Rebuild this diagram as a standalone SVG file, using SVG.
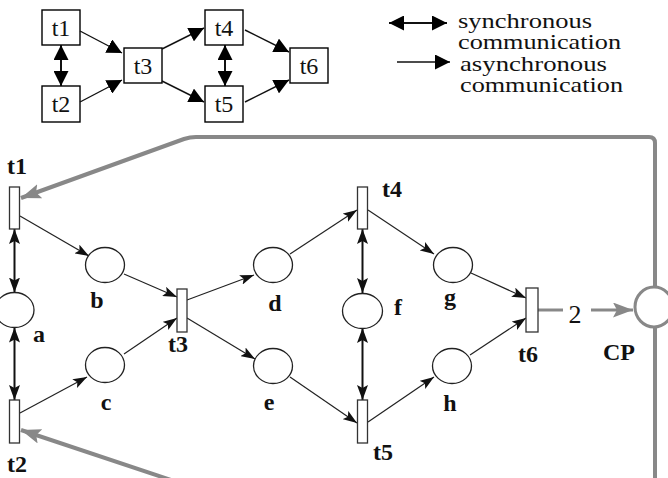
<svg xmlns="http://www.w3.org/2000/svg" width="668" height="478" viewBox="0 0 668 478">
<defs>
<style>
.box{fill:#fff;stroke:#000;stroke-width:1.4}
.tr{fill:#fff;stroke:#333;stroke-width:1.3}
.pl{fill:#fff;stroke:#222;stroke-width:1.3}
.st{font-size:24px;fill:#111;text-anchor:middle}
.lg{font-size:21px;fill:#111}
.lb{font-size:24px;font-weight:bold;fill:#111}
.c{text-anchor:middle}
.ar{fill:none;stroke:#222;stroke-width:1.2;marker-end:url(#m1)}
.sa{fill:none;stroke:#111;stroke-width:1.4;marker-end:url(#m3)}
.db{fill:none;stroke:#111;stroke-width:2;marker-start:url(#m2);marker-end:url(#m2)}
.dbs{fill:none;stroke:#111;stroke-width:2;marker-start:url(#m3);marker-end:url(#m3)}
.gr{fill:none;stroke:#888;stroke-width:4;stroke-linejoin:round}
</style>
<marker id="m1" markerWidth="14" markerHeight="10" refX="14" refY="5" orient="auto" markerUnits="userSpaceOnUse"><path d="M0,0 L14,5 L0,10 L3,5 z" fill="#111"/></marker>
<marker id="m2" markerWidth="15" markerHeight="11" refX="15" refY="5.5" orient="auto-start-reverse" markerUnits="userSpaceOnUse"><path d="M0,0 L15,5.5 L0,11 L3,5.5 z" fill="#111"/></marker>
<marker id="m3" markerWidth="15" markerHeight="15" refX="15" refY="7.5" orient="auto-start-reverse" markerUnits="userSpaceOnUse"><path d="M0,0 L15,7.5 L0,15 z" fill="#000"/></marker>
<marker id="mg" markerWidth="20" markerHeight="15" refX="20" refY="7.5" orient="auto" markerUnits="userSpaceOnUse"><path d="M0,0 L20,7.5 L0,15 L4,7.5 z" fill="#888"/></marker>
</defs>
<rect width="668" height="478" fill="#fff"/>

<g font-family="Liberation Serif, Times New Roman, serif">
<!-- overview diagram -->
<g id="s-t1"><rect class="box" x="42" y="10" width="38" height="35"/><text class="st" x="61" y="36">t1</text></g>
<g id="s-t2"><rect class="box" x="42" y="86" width="38" height="36"/><text class="st" x="61" y="112">t2</text></g>
<g id="s-t3"><rect class="box" x="124" y="48" width="38" height="35"/><text class="st" x="143" y="74">t3</text></g>
<g id="s-t4"><rect class="box" x="205" y="10" width="38" height="35"/><text class="st" x="224" y="36">t4</text></g>
<g id="s-t5"><rect class="box" x="205" y="86" width="38" height="36"/><text class="st" x="224" y="112">t5</text></g>
<g id="s-t6"><rect class="box" x="290" y="48" width="38" height="35"/><text class="st" x="309" y="74">t6</text></g>
<g id="s-connectors">
<path class="dbs" d="M61,45 L61,86"/>
<path class="dbs" d="M225,45 L225,86"/>
<path class="sa" d="M80,31 L122,53"/>
<path class="sa" d="M80,102 L122,80"/>
<path class="sa" d="M162,49 L204,28"/>
<path class="sa" d="M162,81 L204,102"/>
<path class="sa" d="M245,30 L289,52"/>
<path class="sa" d="M245,102 L289,80"/>
</g>

<!-- legend -->
<g id="legend">
<path class="dbs" d="M389,23 L447,23"/>
<path class="sa" d="M397,62 L450,62"/>
<text class="lg" x="458" y="28" textLength="134" lengthAdjust="spacingAndGlyphs">synchronous</text>
<text class="lg" x="458" y="49" textLength="163" lengthAdjust="spacingAndGlyphs">communication</text>
<text class="lg" x="460" y="71" textLength="147" lengthAdjust="spacingAndGlyphs">asynchronous</text>
<text class="lg" x="460" y="92" textLength="163" lengthAdjust="spacingAndGlyphs">communication</text>
</g>

<!-- Petri net -->
<g id="connectors">
<path class="gr" d="M655,286 L655,143 Q655,137 649,137 L196,137 Q190,137 184,139 L21,198" marker-end="url(#mg)"/>
<path class="gr" d="M655,328 L655,482"/>
<path class="gr" d="M177,482 L21,430" marker-end="url(#mg)"/>
<path class="gr" d="M538,310 L563,310" style="stroke-width:3"/>
<path class="gr" d="M591,310 L633,310" style="stroke-width:3" marker-end="url(#mg)"/>
<path class="ar" d="M20,216 L89,256"/>
<path class="ar" d="M124,274 L177,297"/>
<path class="ar" d="M20,413 L87,377"/>
<path class="ar" d="M124,354 L177,318"/>
<path class="ar" d="M187,300 L254,275"/>
<path class="ar" d="M187,318 L255,359"/>
<path class="ar" d="M290,254 L357,210"/>
<path class="ar" d="M290,377 L357,423"/>
<path class="ar" d="M368,210 L434,254"/>
<path class="ar" d="M368,422 L434,377"/>
<path class="ar" d="M471,273 L526,298"/>
<path class="ar" d="M470,355 L526,318"/>
<path class="db" d="M14.5,229 L14.5,292.5"/>
<path class="db" d="M14.5,327.5 L14.5,400"/>
<path class="db" d="M362.5,229 L362.5,293"/>
<path class="db" d="M362.5,328 L362.5,400"/>
</g>
<text class="st" x="575" y="323" style="font-size:26px">2</text>

<g id="t1"><rect class="tr" x="9.5" y="187" width="10" height="42"/><text class="lb" x="7" y="174">t1</text></g>
<g id="t2"><rect class="tr" x="9.5" y="400" width="10" height="43"/><text class="lb" x="7" y="472">t2</text></g>
<g id="t3"><rect class="tr" x="177" y="289" width="10" height="43"/><text class="lb" x="168" y="352">t3</text></g>
<g id="t4"><rect class="tr" x="357.5" y="187" width="10" height="42"/><text class="lb" x="382" y="197">t4</text></g>
<g id="t5"><rect class="tr" x="357.5" y="400" width="10" height="43"/><text class="lb" x="373" y="460">t5</text></g>
<g id="t6"><rect class="tr" x="526" y="288" width="12" height="44"/><text class="lb" x="518" y="362">t6</text></g>

<g id="a"><ellipse class="pl" cx="14.5" cy="310" rx="19.5" ry="17.5"/><text class="lb c" x="39" y="342">a</text></g>
<g id="b"><ellipse class="pl" cx="105" cy="265" rx="19.5" ry="17.5"/><text class="lb c" x="97" y="308">b</text></g>
<g id="c"><ellipse class="pl" cx="105" cy="365" rx="19.5" ry="17.5"/><text class="lb c" x="106" y="410">c</text></g>
<g id="d"><ellipse class="pl" cx="273" cy="265" rx="19.5" ry="17.5"/><text class="lb c" x="275" y="311">d</text></g>
<g id="e"><ellipse class="pl" cx="273" cy="366" rx="19.5" ry="17.5"/><text class="lb c" x="269" y="410">e</text></g>
<g id="f"><ellipse class="pl" cx="362.5" cy="311" rx="20" ry="17.5"/><text class="lb c" x="398" y="315">f</text></g>
<g id="g"><ellipse class="pl" cx="453" cy="265" rx="19.5" ry="17.5"/><text class="lb c" x="450" y="305">g</text></g>
<g id="h"><ellipse class="pl" cx="452" cy="366" rx="19.5" ry="17.5"/><text class="lb c" x="450" y="411">h</text></g>
<g id="CP"><ellipse cx="654" cy="307" rx="19" ry="20" fill="#fff" stroke="#888" stroke-width="3"/><text class="lb" x="603" y="360">CP</text></g>
</g>
</svg>
